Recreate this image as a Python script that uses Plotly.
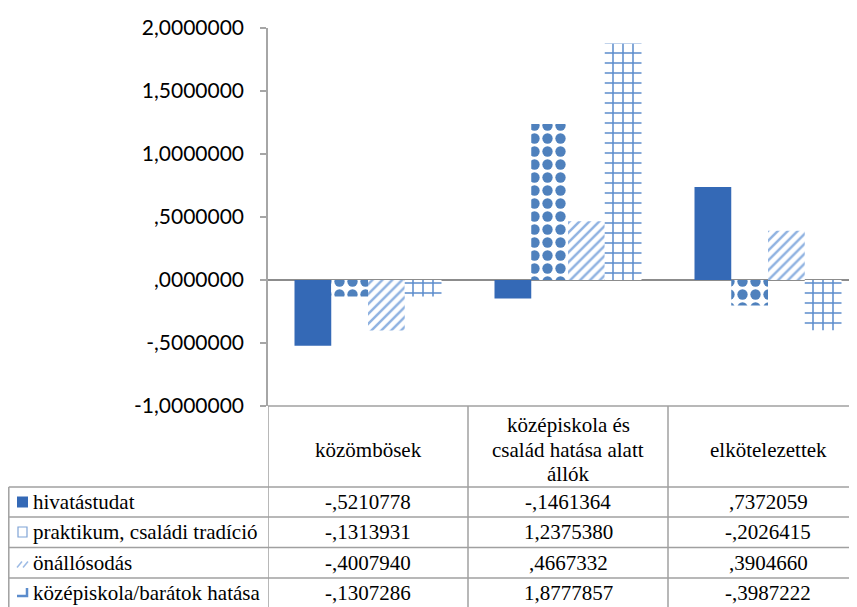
import plotly.graph_objects as go

# ---- data ----
categories = ["közömbösek", "középiskola és<br>család hatása alatt<br>állók", "elkötelezettek"]
series_names = ["hivatástudat", "praktikum, családi tradíció", "önállósodás", "középiskola/barátok hatása"]
hivatastudat = [-0.5210778, -0.1461364, 0.7372059]
praktikum = [-0.1313931, 1.2375380, -0.2026415]
onallosodas = [-0.4007940, 0.4667332, 0.3904660]
kozepiskola_baratok = [-0.1307286, 1.8777857, -0.3987222]
tick_vals = [2.0, 1.5, 1.0, 0.5, 0.0, -0.5, -1.0]
tick_text = ["2,0000000", "1,5000000", "1,0000000", ",5000000", ",0000000", "-,5000000", "-1,0000000"]

OFF = 8  # page body margin
W, H = 857 - OFF, 607 - OFF
SERIF = "Liberation Serif, Times New Roman, serif"


def px_x(p):
    return (p - OFF) / W


def py(p):
    return 1 - (p - OFF) / H


def fmt(v):
    s = f"{v:.7f}".replace(".", ",")
    if s.startswith("0,"):
        s = s[1:]
    elif s.startswith("-0,"):
        s = "-" + s[2:]
    return s


values = [hivatastudat, praktikum, onallosodas, kozepiskola_baratok]
colors = ["#3469b6", "#4f81bd", "#8fb2e1", "#5b8ccc"]
patterns = [
    dict(shape=""),
    dict(shape=".", fgcolor="#4f81bd", bgcolor="white", size=13, solidity=0.5, fillmode="replace"),
    dict(shape="/", fgcolor="#8fb2e1", bgcolor="white", size=7, solidity=0.35, fillmode="replace"),
    dict(shape="+", fgcolor="#5b8ccc", bgcolor="white", size=10, solidity=0.28, fillmode="replace"),
]

fig = go.Figure()
for name, vals, col, pat in zip(series_names, values, colors, patterns):
    fig.add_trace(go.Bar(
        x=list(range(len(categories))), y=vals, name=name,
        marker=dict(color=col, line=dict(width=0), pattern=pat),
        showlegend=False,
    ))

x0px = 268
cat_w = 200
fig.update_layout(
    template=None,
    width=W, height=H,
    margin=dict(l=0, r=0, t=0, b=0, pad=0, autoexpand=False),
    paper_bgcolor="white", plot_bgcolor="white",
    barmode="group", bargap=0.265, bargroupgap=0,
    xaxis=dict(domain=[px_x(x0px), 1], range=[-0.5, -0.5 + (857 - x0px) / cat_w],
               showticklabels=False, showgrid=False, zeroline=False, showline=False,
               ticks="", fixedrange=True, automargin=False),
    yaxis=dict(domain=[py(406), py(28)], range=[-1, 2], tickvals=tick_vals, ticktext=tick_text,
               showgrid=False, zeroline=True, zerolinecolor="#8c8c8c", zerolinewidth=1.5,
               showline=True, linecolor="#a6a6a6", linewidth=1.5,
               ticks="outside", ticklen=6, tickcolor="#a6a6a6", tickwidth=1.5,
               ticklabelstandoff=12, automargin=False, fixedrange=True,
               tickfont=dict(family="Lato", size=21, color="#000000")),
    font=dict(family=SERIF, size=21, color="#000000"),
)

line_col = "#a0a0a0"
lw = 1.5
shapes = []
shapes.append(dict(type="line", xref="paper", yref="paper", x0=px_x(x0px), x1=1, y0=py(406), y1=py(406),
                   line=dict(color=line_col, width=lw)))
row_lines = [487, 517, 547.5, 578]
for r in row_lines:
    shapes.append(dict(type="line", xref="paper", yref="paper", x0=px_x(8.8), x1=1, y0=py(r), y1=py(r),
                       line=dict(color=line_col, width=lw)))
for cx in [-0.5, 0.5, 1.5]:
    shapes.append(dict(type="line", xref="x", yref="paper", x0=cx, x1=cx, y0=py(406), y1=0,
                       line=dict(color=line_col, width=lw)))
shapes.append(dict(type="line", xref="paper", yref="paper", x0=px_x(8.8), x1=px_x(8.8), y0=py(487), y1=0,
                   line=dict(color=line_col, width=lw)))

# legend keys
row_c = [502, 532, 562.5, 593]
shapes.append(dict(type="rect", xref="paper", yref="paper", x0=px_x(17), x1=px_x(28), y0=py(row_c[0] + 5.5), y1=py(row_c[0] - 5.5),
                   fillcolor="#3469b6", line=dict(width=0)))
shapes.append(dict(type="rect", xref="paper", yref="paper", x0=px_x(18), x1=px_x(27), y0=py(row_c[1] + 5), y1=py(row_c[1] - 5),
                   fillcolor="white", line=dict(color="#7fa3d6", width=1.2)))
for off in [0, 6]:
    shapes.append(dict(type="line", xref="paper", yref="paper",
                       x0=px_x(17 + off), x1=px_x(22 + off), y0=py(row_c[2] + 5), y1=py(row_c[2] - 1),
                       line=dict(color="#9dbbe5", width=1.5)))
shapes.append(dict(type="path", xref="paper", yref="paper",
                   path=f"M {px_x(17)},{py(row_c[3] + 3)} L {px_x(27)},{py(row_c[3] + 3)} L {px_x(27)},{py(row_c[3] - 5)}",
                   line=dict(color="#5b8ccc", width=2.5)))
fig.update_layout(shapes=shapes)

ann = []
header_y = [425, 449.5, 474]
for i, c in enumerate(categories):
    lines = c.split("<br>")
    ys = [449.5] if len(lines) == 1 else header_y[:len(lines)]
    for ln, yy in zip(lines, ys):
        ann.append(dict(xref="x", yref="paper", x=i, y=py(yy), text=ln, showarrow=False,
                        xanchor="center", yanchor="middle", font=dict(family=SERIF, size=21)))
for r, (name, vals) in enumerate(zip(series_names, values)):
    ann.append(dict(xref="paper", yref="paper", x=px_x(31), y=py(row_c[r]), text=name, showarrow=False,
                    xanchor="left", yanchor="middle", font=dict(family=SERIF, size=21)))
    for i, v in enumerate(vals):
        ann.append(dict(xref="x", yref="paper", x=i, y=py(row_c[r]), text=fmt(v), showarrow=False,
                        xanchor="center", yanchor="middle", font=dict(family=SERIF, size=21)))
fig.update_layout(annotations=ann)

fig.write_html("out.html")
